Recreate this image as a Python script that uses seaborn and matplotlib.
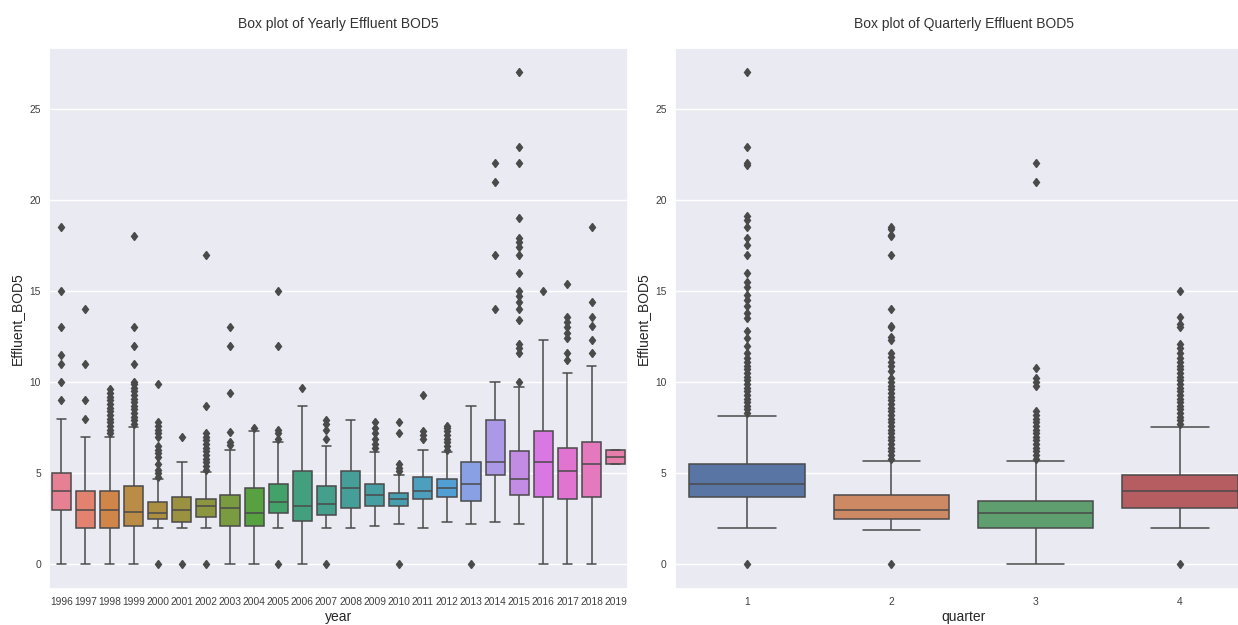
import numpy as np
import pandas as pd
import matplotlib
matplotlib.use("Agg")
import matplotlib.pyplot as plt
import seaborn as sns

sns.set_theme(style="darkgrid")
plt.rcParams['font.family'] = ['Liberation Sans', 'DejaVu Sans']

# ---------------------------------------------------------------------
# Box summaries (whisker low, Q1, median, Q3,
# whisker high) plus the visible outliers of every group
# ---------------------------------------------------------------------
years = [str(y) for y in range(1996, 2020)]
year_lo = [0, 0, 0, 0, 2.0, 2.0, 2.0, 0, 0, 2.0, 0, 2.0,
           2.0, 2.1, 2.2, 2.0, 2.3, 2.2, 2.3, 2.2, 0, 0, 0, 5.5]
year_q1 = [3.0, 2.0, 2.0, 2.1, 2.5, 2.3, 2.6, 2.1, 2.1, 2.8, 2.4, 2.7,
           3.1, 3.2, 3.2, 3.6, 3.7, 3.5, 4.9, 3.8, 3.7, 3.6, 3.7, 5.5]
year_med = [4.0, 3.0, 3.0, 2.9, 2.8, 3.0, 3.2, 3.1, 2.8, 3.4, 3.2, 3.3,
            4.2, 3.8, 3.6, 4.0, 4.2, 4.4, 5.6, 4.7, 5.6, 5.1, 5.5, 5.9]
year_q3 = [5.0, 4.0, 4.0, 4.3, 3.4, 3.7, 3.6, 3.8, 4.2, 4.4, 5.1, 4.3,
           5.1, 4.4, 3.9, 4.8, 4.7, 5.6, 7.9, 6.2, 7.3, 6.4, 6.7, 6.3]
year_hi = [8.0, 7.0, 7.0, 7.55, 4.7, 5.6, 5.05, 6.3, 7.3, 6.7, 8.7, 6.5,
           7.9, 6.15, 4.9, 6.3, 6.15, 8.7, 10.0, 9.75, 12.3, 10.5, 10.9, 6.3]
year_out_low = [[], [], [], [], [0], [0], [0], [], [], [0], [], [0],
                [], [], [0], [], [], [0], [], [], [], [], [], []]
year_out_high = [
    [9.0, 10.0, 11.0, 11.5, 13.0, 15.0, 18.5],
    [8.0, 9.0, 11.0, 14.0],
    [7.2, 7.4, 7.6, 7.8, 8.0, 8.2, 8.4, 8.6, 8.8, 9.0, 9.2, 9.4, 9.6],
    [7.7, 7.9, 8.1, 8.3, 8.5, 8.7, 8.9, 9.1, 9.3, 9.5, 9.7, 9.9, 10.0,
     11.0, 12.0, 13.0, 18.0],
    [4.8, 5.0, 5.2, 5.5, 5.9, 6.1, 6.3, 6.5, 7.0, 7.2, 7.4, 7.6, 7.8, 9.9],
    [7.0],
    [5.2, 5.4, 5.6, 5.8, 6.0, 6.2, 6.4, 6.6, 6.8, 7.0, 7.2, 8.7, 17.0],
    [6.55, 6.7, 7.25, 9.4, 12.0, 13.0],
    [7.5],
    [6.9, 7.2, 7.4, 12.0, 15.0],
    [9.7],
    [6.9, 7.4, 7.7, 7.9],
    [],
    [6.4, 6.6, 6.9, 7.2, 7.5, 7.8],
    [5.1, 5.3, 5.5, 7.2, 7.8],
    [6.9, 7.1, 7.3, 9.3],
    [6.3, 6.5, 6.7, 6.9, 7.1, 7.3, 7.5, 7.6],
    [],
    [14.0, 17.0, 21.0, 22.0],
    [10.0, 11.6, 11.9, 12.1, 13.4, 14.0, 14.4, 14.7, 15.0, 16.0, 17.0,
     17.4, 17.7, 17.9, 19.0, 22.0, 22.9, 27.0],
    [15.0],
    [11.2, 11.6, 12.4, 12.7, 13.0, 13.3, 13.6, 15.4],
    [11.6, 12.3, 13.1, 13.6, 14.4, 18.5],
    [],
]

quarters = ["1", "2", "3", "4"]
qtr_lo = [2.0, 1.9, 0, 2.0]
qtr_q1 = [3.7, 2.5, 2.0, 3.1]
qtr_med = [4.4, 3.0, 2.8, 4.0]
qtr_q3 = [5.5, 3.8, 3.5, 4.9]
qtr_hi = [8.15, 5.7, 5.7, 7.55]
qtr_out_low = [[0], [0], [], [0]]
qtr_out_high = [
    [8.3, 8.5, 8.7, 8.9, 9.1, 9.3, 9.5, 9.7, 9.9, 10.1, 10.3, 10.5, 10.7,
     10.9, 11.1, 11.3, 11.6, 12.0, 12.4, 12.8, 13.5, 13.8, 14.2, 14.5,
     14.8, 15.2, 15.5, 16.0, 17.0, 17.5, 17.9, 18.5, 18.9, 19.1, 21.9,
     22.0, 22.9, 27.0],
    [5.8, 6.0, 6.2, 6.4, 6.6, 6.8, 7.0, 7.2, 7.4, 7.6, 7.8, 8.0, 8.2, 8.4,
     8.6, 8.8, 9.0, 9.2, 9.4, 9.6, 9.8, 10.0, 10.2, 10.6, 10.9, 11.1, 11.4,
     11.6, 12.3, 12.5, 13.0, 13.1, 14.0, 17.0, 18.0, 18.1, 18.4, 18.5],
    [5.8, 6.0, 6.2, 6.4, 6.6, 6.8, 7.0, 7.2, 7.4, 7.6, 7.8, 8.0, 8.2, 8.4,
     9.8, 10.0, 10.2, 10.8, 21.0, 22.0],
    [7.7, 7.9, 8.1, 8.3, 8.5, 8.7, 8.9, 9.1, 9.3, 9.5, 9.7, 9.9, 10.1, 10.3,
     10.5, 10.7, 10.9, 11.1, 11.3, 11.6, 11.9, 12.1, 13.0, 13.2, 13.6, 15.0],
]


def box_sample(lo, q1, med, q3, hi, low_out, high_out):
    """Points whose quartiles / whiskers / fliers give exactly this box."""
    n = max(len(low_out), len(high_out)) + 1
    below = list(low_out) + [lo] + [q1] * (n - 1 - len(low_out))
    above = [q3] * (n - 1 - len(high_out)) + [hi] + list(high_out)
    return below + [q1] + [med] * (n - 1) + [med] + [med] * (n - 1) + [q3] + above


def build_frame(groups, col, lo, q1, med, q3, hi, out_lo, out_hi):
    rows = []
    for i, g in enumerate(groups):
        vals = box_sample(lo[i], q1[i], med[i], q3[i], hi[i], out_lo[i], out_hi[i])
        rows += [(g, v) for v in vals]
    return pd.DataFrame(rows, columns=[col, "Effluent_BOD5"])


df_year = build_frame(years, "year", year_lo, year_q1, year_med, year_q3,
                      year_hi, year_out_low, year_out_high)
df_qtr = build_frame(quarters, "quarter", qtr_lo, qtr_q1, qtr_med, qtr_q3,
                     qtr_hi, qtr_out_low, qtr_out_high)

# ---------------------------------------------------------------------
# Figure
# ---------------------------------------------------------------------
W, H = 1238, 625
fig = plt.figure(figsize=(W / 100, H / 100), dpi=100)
ax1 = fig.add_axes([49.3 / W, (H - 589) / H, 578.4 / W, 541.3 / H])
ax2 = fig.add_axes([675 / W, (H - 589) / H, 577 / W, 541.3 / H])

line_c = "#4a4a4a"
flier = dict(marker="d", markersize=4.5, markerfacecolor=line_c,
             markeredgecolor=line_c)

sns.boxplot(data=df_year, x="year", y="Effluent_BOD5", hue="year",
            order=years, hue_order=years, palette="husl", legend=False,
            linecolor=line_c, linewidth=1.1, flierprops=flier, ax=ax1)
sns.boxplot(data=df_qtr, x="quarter", y="Effluent_BOD5", hue="quarter",
            order=quarters, hue_order=quarters, palette="deep", legend=False,
            linecolor=line_c, linewidth=1.1, flierprops=flier, ax=ax2)

for ax, title, xl in [(ax1, "Box plot of Yearly Effluent BOD5", "year"),
                      (ax2, "Box plot of Quarterly Effluent BOD5", "quarter")]:
    ax.set_ylim(-1.35, 28.35)
    ax.set_yticks([0, 5, 10, 15, 20, 25])
    ax.set_title(title, fontsize=10, color=".2", pad=14)
    ax.set_xlabel(xl, fontsize=10, labelpad=2)
    ax.set_ylabel("Effluent_BOD5", fontsize=10, labelpad=4)
    ax.tick_params(axis="both", labelsize=7.4, pad=6, length=0, labelcolor=".25")

fig.savefig("out.png", dpi=100)
